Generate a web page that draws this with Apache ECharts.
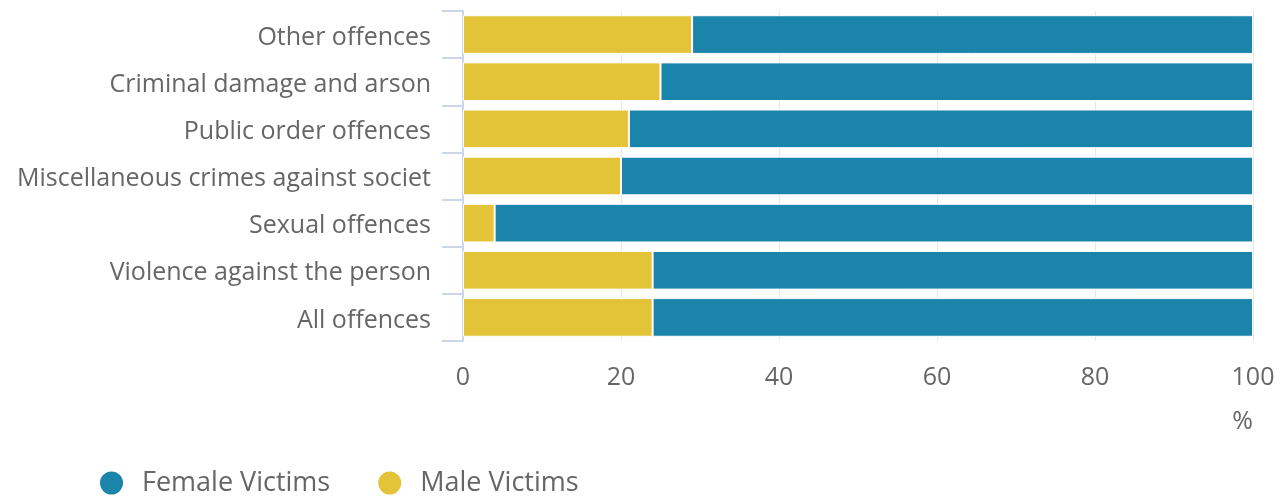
<!DOCTYPE html>
<html><head><meta charset="utf-8">
<script src="https://cdn.jsdelivr.net/npm/echarts@6/dist/echarts.min.js"></script>
<style>html,body{margin:0;padding:0;background:#fff}#c{width:1282px;height:497px}</style>
</head><body><div id="c"></div>
<script>
const categories = ['All offences','Violence against the person','Sexual offences','Miscellaneous crimes against society','Public order offences','Criminal damage and arson','Other offences'];
const maleVictims = [24, 24, 4, 20, 21, 25, 29];
const femaleVictims = [76, 76, 96, 80, 79, 75, 71];
const xTicks = [0, 20, 40, 60, 80, 100];

const chart = echarts.init(document.getElementById('c'), null, {renderer:'canvas'});
const font = '"Open Sans", sans-serif';
chart.setOption({
  animation: false,
  textStyle: {fontFamily: font},
  grid: {left: 463, right: 29, top: 11, bottom: 156},
  legend: {
    top: 468, left: 98, padding: 0,
    icon: 'circle', itemWidth: 25, itemHeight: 25, itemGap: 46,
    data: ['Female Victims','Male Victims'],
    textStyle: {fontSize: 27, lineHeight: 30, color: '#666', fontFamily: font, padding: [0,0,0,13]}
  },
  xAxis: {
    type: 'value', min: xTicks[0], max: xTicks[xTicks.length-1], interval: 20,
    name: '%', nameLocation: 'end', nameGap: 0,
    nameTextStyle: {fontSize: 25, color: '#666', align: 'right', verticalAlign: 'top', padding: [68,0,0,0]},
    axisLine: {show: false}, axisTick: {show: false},
    axisLabel: {fontSize: 25, color: '#666', margin: 24},
    splitLine: {lineStyle: {color: '#e6e6e6', width: 1}}
  },
  yAxis: {
    type: 'category', data: categories,
    axisLine: {show: true, lineStyle: {color: '#ccd6eb', width: 2}},
    axisTick: {show: true, length: 21, lineStyle: {color: '#ccd6eb', width: 2}},
    axisLabel: {fontSize: 25, color: '#666', margin: 32, width: 423, overflow: 'truncate', ellipsis: '',
      verticalAlign: 'top', lineHeight: 6},
  },
  series: [
    {name: 'Male Victims', type: 'bar', stack: 'a', data: maleVictims, barCategoryGap: '18%',
      itemStyle: {color: '#e3c337', borderColor: '#fff', borderWidth: 1}},
    {name: 'Female Victims', type: 'bar', stack: 'a', data: femaleVictims, barCategoryGap: '18%',
      itemStyle: {color: '#1a84ab', borderColor: '#fff', borderWidth: 1}}
  ]
});
</script></body></html>
